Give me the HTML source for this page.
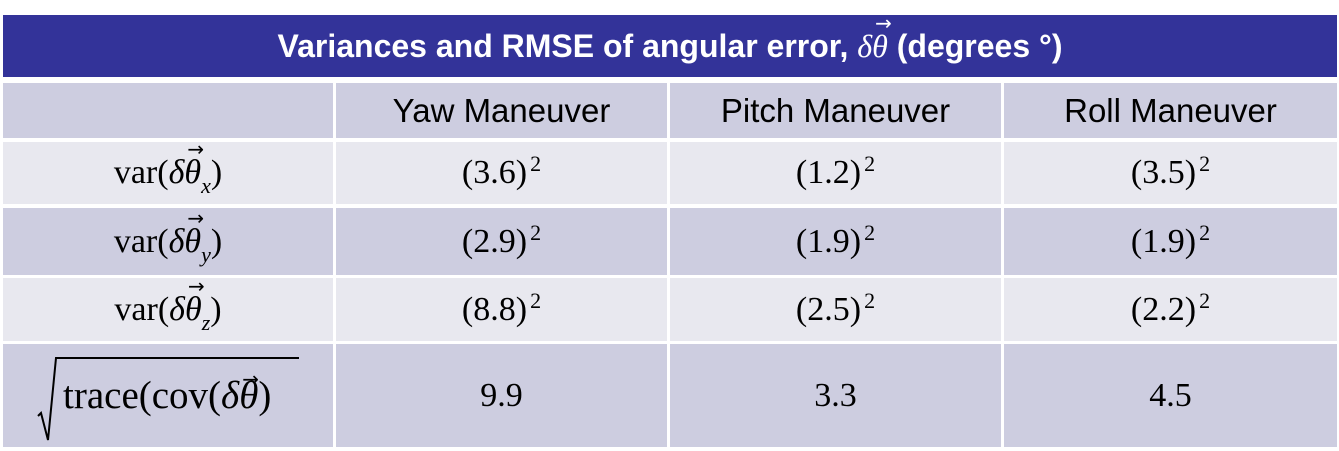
<!DOCTYPE html>
<html><head><meta charset="utf-8"><style>
body{margin:0;width:1339px;height:451px;background:#fff;position:relative;overflow:hidden}
.c{position:absolute;display:flex;align-items:center;justify-content:center;color:#000;box-sizing:border-box;white-space:nowrap}
.d{background:#cdcde0}.l{background:#e8e8ef}
.h{font-family:"Liberation Sans",sans-serif;font-size:33px}
.m{font-family:"Liberation Serif",serif;font-size:34px}
.m i{font-style:italic}
sup{font-size:22px;vertical-align:0;position:relative;top:-12px;margin-left:3px}
sub{font-size:22px;vertical-align:0;position:relative;top:10px}
.th{position:relative;display:inline-block}
.th b{position:absolute;left:3px;top:-17px;font-weight:normal;font-size:20px;font-style:normal;font-family:"DejaVu Sans",sans-serif}
</style></head><body>
<div class="c h" style="left:3px;top:15px;width:1334px;height:62px;background:#333399;color:#fff;font-weight:bold;font-size:32px"><span>Variances and RMSE of angular error,&nbsp;<span style="font-family:'Liberation Serif',serif;font-weight:normal;font-style:italic">δ<span class="th">θ<b>→</b></span></span>&nbsp;(degrees °)</span></div>
<div id="t"></div>
<script>
const rows=[["var(δθ<sub>x</sub>)","(3.6)","(1.2)","(3.5)"],["var(δθ<sub>y</sub>)","(2.9)","(1.9)","(1.9)"],["var(δθ<sub>z</sub>)","(8.8)","(2.5)","(2.2)"]];
const rmse=["9.9","3.3","4.5"];
const heads=["Yaw Maneuver","Pitch Maneuver","Roll Maneuver"];
const xs=[3,336,670,1004],ws=[330,331,331,333];
const ys=[83,142,208,278,344],hs=[55,62,67,63,103];
let html="";
function cell(x,w,y,h,cls,content,name){return `<div class="c ${cls}" style="left:${x}px;top:${y}px;width:${w}px;height:${h}px"><span>${content}</span></div>`;}
html+=cell(xs[0],ws[0],ys[0],hs[0],"d h","","header-corner");
heads.forEach((t,i)=>html+=cell(xs[i+1],ws[i+1],ys[0],hs[0],"d h",t,"header-"+t.split(" ")[0].toLowerCase()));
rows.forEach((r,j)=>{
 const lab=r[0].replace("δθ",'<i>δ<span class="th">θ<b>→</b></span></i>').replace(/<sub>(.)<\/sub>/,'<sub><i>$1</i></sub>');
 const cls=(j%2==0?"l":"d")+" m";
 html+=cell(xs[0],ws[0],ys[j+1],hs[j+1],cls,lab,"row-label-"+(j+1));
 for(let k=1;k<4;k++)html+=cell(xs[k],ws[k],ys[j+1],hs[j+1],cls,r[k]+"<sup>2</sup>","value-r"+(j+1)+"-c"+k);
});
html+=`<div class="d m" style="position:absolute;left:${xs[0]}px;top:${ys[4]}px;width:${ws[0]}px;height:${hs[4]}px">
<svg width="330" height="103" style="position:absolute;left:0;top:0"><polyline points="35,72 38,69 45,96 53,14 296,14" fill="none" stroke="#000" stroke-width="2"/></svg>
<span style="position:absolute;left:60px;top:30px;line-height:44px;font-size:39px">trace(cov(<i>δ<span class="th">θ<b>→</b></span></i>)</span></div>`;
rmse.forEach((v,k)=>html+=cell(xs[k+1],ws[k+1],ys[4],hs[4],"d m",v,"rmse-value-"+(k+1)));
document.getElementById("t").innerHTML=html;
</script>
</body></html>
